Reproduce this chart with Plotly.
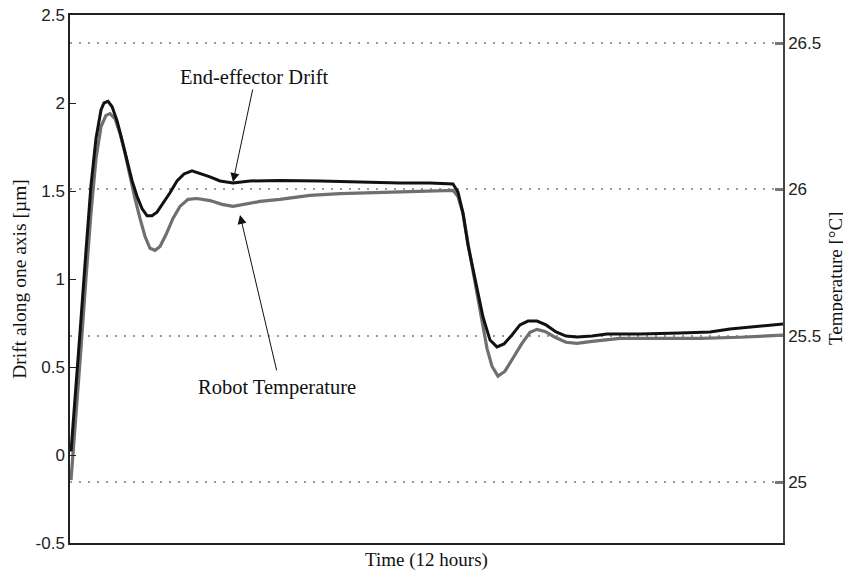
import plotly.graph_objects as go

# Time in hours (12-hour record)
drift_time = [0.017, 0.101, 0.185, 0.269, 0.353, 0.438, 0.522, 0.572, 0.640, 0.707, 0.791,
              0.875, 0.959, 1.043, 1.128, 1.212, 1.296, 1.380, 1.464, 1.565, 1.683, 1.801,
              1.919, 2.053, 2.188, 2.356, 2.525, 2.743, 3.029, 3.534, 4.208, 4.881, 5.554,
              6.059, 6.446, 6.530, 6.614, 6.698, 6.782, 6.866, 6.951, 7.069, 7.186, 7.304,
              7.439, 7.573, 7.708, 7.860, 8.011, 8.180, 8.348, 8.533, 8.785, 9.038, 9.593,
              10.266, 10.771, 11.108, 11.444, 11.781, 12.0]
drift_um = [0.02, 0.37, 0.77, 1.16, 1.53, 1.80, 1.96, 2.00, 2.01, 1.98, 1.90,
            1.79, 1.68, 1.56, 1.47, 1.40, 1.36, 1.36, 1.38, 1.43, 1.49, 1.557,
            1.597, 1.614, 1.60, 1.58, 1.557, 1.545, 1.557, 1.56, 1.557, 1.55, 1.545,
            1.545, 1.54, 1.494, 1.375, 1.193, 1.051, 0.909, 0.784, 0.653, 0.614, 0.631,
            0.682, 0.739, 0.761, 0.761, 0.739, 0.699, 0.676, 0.670, 0.676, 0.687, 0.687,
            0.693, 0.699, 0.716, 0.727, 0.739, 0.744]

temp_time = [0.017, 0.101, 0.185, 0.269, 0.353, 0.438, 0.522, 0.606, 0.673, 0.757, 0.842,
             0.926, 1.010, 1.094, 1.178, 1.262, 1.346, 1.431, 1.515, 1.616, 1.733, 1.851,
             1.986, 2.137, 2.356, 2.558, 2.743, 2.945, 3.198, 3.534, 4.039, 4.544, 5.217,
             5.891, 6.446, 6.530, 6.614, 6.698, 6.782, 6.850, 6.934, 7.018, 7.102, 7.203,
             7.321, 7.456, 7.607, 7.742, 7.860, 7.994, 8.163, 8.348, 8.533, 8.785, 9.257,
             9.930, 10.603, 11.276, 12.0]
temp_c = [25.007, 25.218, 25.457, 25.696, 25.918, 26.106, 26.215, 26.253, 26.259, 26.242, 26.191,
          26.123, 26.044, 25.969, 25.901, 25.840, 25.799, 25.792, 25.805, 25.846, 25.901, 25.942,
          25.966, 25.969, 25.962, 25.949, 25.942, 25.949, 25.959, 25.966, 25.980, 25.986, 25.990,
          25.993, 25.997, 25.976, 25.918, 25.816, 25.724, 25.638, 25.543, 25.457, 25.396, 25.362,
          25.379, 25.423, 25.474, 25.512, 25.522, 25.515, 25.495, 25.478, 25.474, 25.481, 25.491,
          25.491, 25.491, 25.495, 25.502]

drift_ticks = [-0.5, 0, 0.5, 1, 1.5, 2, 2.5]
temp_ticks = [25, 25.5, 26, 26.5]

serif = "Liberation Serif, Times New Roman, serif"
sans = "Liberation Sans, Arial, sans-serif"

fig = go.Figure()
fig.add_trace(go.Scatter(x=temp_time, y=temp_c, mode="lines", yaxis="y",
                         line=dict(color="#6f6f6f", width=3.2), showlegend=False))
fig.add_trace(go.Scatter(x=drift_time, y=drift_um, mode="lines", yaxis="y2",
                         line=dict(color="#111111", width=3), showlegend=False))

# The page body adds an 8px offset, so the figure is sized to 843x575.
fig.update_layout(
    template="none",
    width=843, height=575,
    margin=dict(l=62, r=68, t=7, b=40, pad=0),
    paper_bgcolor="white", plot_bgcolor="white",
    xaxis=dict(range=[0, 12], showticklabels=False, ticks="", showgrid=False, zeroline=False,
               automargin=False,
               showline=True, linecolor="#222", linewidth=1.5, mirror=True,
               title=dict(text="Time (12 hours)", font=dict(family=serif, size=19, color="#111"),
                          standoff=9)),
    yaxis=dict(side="right", range=[24.792, 26.596], tickvals=temp_ticks,
               ticktext=["25", "25.5", "26", "26.5"], automargin=False,
               ticks="inside", ticklen=8, tickwidth=2.5, tickcolor="#777",
               tickfont=dict(family=sans, size=17, color="#222"), ticklabeloverflow="allow",
               showgrid=True, gridcolor="#9a9a9a", gridwidth=2, griddash="2px,7px",
               zeroline=False, showline=True, linecolor="#444", linewidth=1.5),
    yaxis2=dict(side="left", overlaying="y", range=[-0.5, 2.5], tickvals=drift_ticks,
                ticktext=["-0.5", "0", "0.5", "1", "1.5", "2", "2.5"], automargin=False,
                ticks="inside", ticklen=6, tickwidth=1, tickcolor="#222",
                tickfont=dict(family=sans, size=17, color="#222"), ticklabeloverflow="allow",
                showgrid=False, zeroline=False, showline=True, linecolor="#222", linewidth=1.5,
                title=dict(text="Drift along one axis [µm]", font=dict(family=serif, size=19.5, color="#111"),
                           standoff=4)),
    annotations=[
        dict(x=1.0, y=0.5, xref="paper", yref="paper", xanchor="center", yanchor="middle",
             xshift=52, text="Temperature [°C]", textangle=-90, showarrow=False,
             font=dict(family=serif, size=19, color="#111")),
        dict(x=3.097, y=2.148, xref="x", yref="y2", text="End-effector Drift", showarrow=False,
             font=dict(family=serif, size=20.5, color="#111")),
        dict(x=3.484, y=0.386, xref="x", yref="y2", text="Robot Temperature", showarrow=False,
             font=dict(family=serif, size=20.5, color="#111")),
        dict(x=2.743, y=1.551, xref="x", yref="y2", axref="x", ayref="y2", ax=3.08, ay=2.085,
             text="", showarrow=True, arrowhead=2, arrowsize=1.8, arrowwidth=1, arrowcolor="#111"),
        dict(x=2.861, y=1.364, xref="x", yref="y2", axref="x", ayref="y2", ax=3.484, ay=0.472,
             text="", showarrow=True, arrowhead=2, arrowsize=1.8, arrowwidth=1, arrowcolor="#111"),
    ],
)

fig.write_html("out.html")
